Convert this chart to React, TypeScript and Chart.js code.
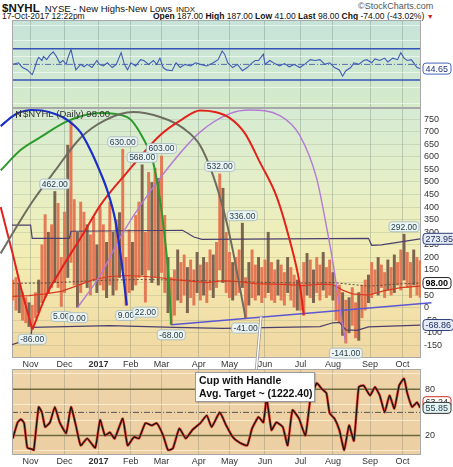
import React, { useEffect, useRef } from 'react';
import { Chart, registerables } from 'chart.js';

Chart.register(...registerables);

const FONT = '"Liberation Sans", Arial, Helvetica, sans-serif';

// x values are trading-session indexes: 0 = 17-Oct-2016 ... 252 = 17-Oct-2017
const X_MIN = -0.5;
const X_MAX = 252.5;
const MONTH_SESSIONS = [11, 32, 53, 73, 92, 115, 134, 156, 178, 198, 221, 241];
const MONTH_LABELS = ['Nov', 'Dec', '2017', 'Feb', 'Mar', 'Apr', 'May', 'Jun', 'Jul', 'Aug', 'Sep', 'Oct'];

// daily range bars, one every second session
const BAR_HIGH = [
  110, 120, 95, 60, 40, 20, 10, 60, 110, 250,
  370, 300, 330, 462, 415, 200, 380, 646, 740, 430,
  300, 420, 380, 330, 290, 360, 250, 400, 330, 260,
  420, 300, 350, 378, 630, 200, 310, 260, 367, 420,
  568, 300, 538, 498, 555, 514, 603, 367, 200, 120,
  150, 230, 180, 210, 160, 190, 150, 220, 170, 200,
  180, 230, 210, 260, 532, 475, 300, 220, 180, 200,
  230, 336, 120, 180, 230, 170, 200, 160, 190, 300,
  180, 150, 190, 170, 140, 200, 160, 130, 110, 90,
  180, 216, 190, 150, 200, 170, 220, 160, 190, 140,
  90, 90, 60, 30, 40, 80, 20, 60, 90, 110,
  130, 180, 150, 200, 170, 140, 190, 160, 210, 180,
  230, 292, 220, 180, 230, 200, 187,
];
const BAR_LOW = [
  30, -10, -20, -50, -60, -75, -86, -40, -20, 20,
  40, 60, 80, 100, 80, 5, 60, 120, 180, 90,
  0, 60, 100, 80, 50, 110, 60, 90, 70, 40,
  90, 50, 70, 120, 150, 9, 60, 70, 90, 120,
  130, 22, 150, 100, 120, 90, 140, 60, -20, -68,
  -30, 30, 20, 50, -20, 40, 10, 60, 30, 50,
  20, 70, 40, 80, 150, 100, 60, 40, 30, 50,
  60, 80, -41, 10, 40, 30, 50, 20, 40, 60,
  30, 20, 50, 30, 10, 60, 30, 0, -10, -10,
  -30, 50, 40, 20, 60, 30, 70, 40, 50, 30,
  -50, -60, -110, -141, -100, -70, -120, -130, -40, -10,
  20, 40, 60, 50, 80, 40, 70, 50, 60, 90,
  70, 110, 80, 40, 90, 50, 41,
];
const BAR_DOWN = [2, 5, 8, 11, 13, 17, 20, 23, 26, 29, 31, 33, 37, 40, 43, 45, 48, 51, 54, 57, 59, 62, 65, 68, 71, 73, 76, 79, 82, 85, 88, 91, 93, 96, 99, 102, 104, 107, 110, 113, 116, 118, 121, 124];

const HIGH_LABELS = [[26, 462], [68, 630], [80, 568], [92, 603], [128, 532], [142, 336], [242, 292]];
const LOW_LABELS = [[12, -86], [30, 5], [40, 0], [70, 9], [82, 22], [98, -68], [144, -41], [206, -141]];

const MA_RED = [[0, 45], [10, 48], [20, 55], [30, 65], [40, 88], [50, 112], [60, 124], [70, 128], [80, 125], [90, 120], [100, 112], [110, 106], [120, 100], [130, 108], [140, 104], [150, 96], [160, 94], [170, 92], [180, 88], [190, 94], [198, 92], [204, 70], [210, 55], [220, 50], [230, 68], [240, 80], [252, 86]];
const MA_DASHED = [[0, 97], [20, 98], [40, 104], [60, 110], [80, 112], [100, 110], [120, 107], [140, 104], [160, 100], [180, 98], [198, 100], [210, 92], [220, 86], [230, 90], [240, 95], [252, 98]];
const BAND_UPPER = [[-0.5, 328], [11, 328], [12, 276], [35, 276], [36, 304], [105, 308], [112, 281], [117, 272], [220, 276], [222, 248], [228, 250], [252, 274]];
const BAND_LOWER = [[-0.5, -147], [11, -123], [12, -78], [60, -71], [100, -78], [130, -82], [190, -75], [198, -60], [202, -58], [206, -88], [213, -90], [220, -76], [252, -69]];
const TRENDLINE = [[98, -68], [259, 20]];

const ARC_RED_LEFT = [[-7.5, 400], [0, 213], [5, 80], [12, -86]];
const ARC_BLUE = [[-7.5, 722], [0, 762], [4, 776], [11, 786], [18, 784], [25.2, 772], [33.8, 746], [41.8, 698], [48, 627], [54.1, 539], [58.4, 467], [63.4, 348], [66, 240], [68.3, 130], [70.5, 9]];
const ARC_GREEN = [[-7.5, 546], [4.8, 627], [17.1, 678], [33.8, 742], [54.1, 774], [70.8, 758], [80.6, 674], [86.8, 578], [91.1, 427], [94.2, 268], [96.5, 110], [98, -68]];
const ARC_GRAY = [[-7.5, 216], [4.8, 348], [12.8, 428], [26.4, 547], [41.8, 675], [57.2, 746], [74.5, 778], [91.1, 758], [105.3, 714], [115.8, 646], [123.8, 527], [131.2, 368], [136.1, 228], [140, 95], [144, -41]];
const ARC_RED = [[12.2, -86], [20, 40], [29.5, 149], [43, 288], [54.1, 407], [70.8, 539], [91.1, 686], [105, 750], [115.8, 784], [125, 778], [134.3, 754], [143.5, 694], [152.8, 579], [163.3, 440], [171.3, 268], [177.4, 97], [180, -30]];
const ARC_PURPLE = [[40, 0], [54.1, 129], [68.3, 300], [91.1, 515], [115.8, 698], [134.3, 772], [146.7, 786], [165.2, 764], [177.4, 686], [187.9, 515], [194.7, 300], [197.8, 189], [200.9, 57], [203.5, -50], [206, -141]];

const TOP_LINE = [[0, 50], [3.5, 52], [6, 46], [9, 43], [12, 37], [13, 42], [15, 55], [16, 59], [18, 55], [19, 60], [21, 56], [23, 62], [25, 66], [27, 60], [29, 52], [31, 55], [33, 50], [34, 58], [36, 69], [37.5, 55], [39, 43], [42, 50], [44, 47], [46, 50], [49, 46], [52, 55], [53.5, 50], [56, 48], [58.5, 52], [61.5, 46], [64, 50], [67, 65], [69, 50], [71, 43], [73, 52], [76, 48], [79, 56], [81, 55], [84, 50], [87, 55], [89, 50], [91, 58], [93, 46], [95, 43], [98.5, 42], [101, 52], [103.5, 46], [106.5, 50], [110, 48], [113, 52], [116, 50], [120, 48], [124, 52], [127, 56], [129.5, 67], [131, 63], [133, 52], [136, 46], [139, 50], [142, 42], [145, 46], [148, 52], [150, 55], [152, 55], [155, 63], [156, 50], [159, 55], [162, 51], [165, 48], [168, 51], [171, 47], [174, 50], [177.5, 46], [180.5, 50], [184, 56], [187, 55], [190, 56], [193, 50], [196, 52], [199, 46], [202, 43], [204, 35], [206, 42], [209, 46], [211, 52], [214, 50], [217, 55], [219, 56], [222, 52], [224, 57], [227, 55], [230, 58], [232, 53], [235, 58], [238, 56], [240, 65], [242, 58], [244, 55], [246.5, 56], [248, 52], [250, 46], [252, 44.65]];
const BOTTOM_LINE = [[0, 16], [3, 37], [5, 41], [7, 36], [9, 4], [12, 2], [13, 1], [16, 57], [18, 50], [20, 31], [23, 37], [26, 57], [29, 37], [33, 23], [36, 57], [39, 33], [42, 7], [46, 16], [51, 4], [54, 40], [57, 20], [60, 24], [63, 16], [68, 42], [71, 7], [75, 18], [78, 16], [82, 36], [86, 33], [89, 36], [93, 20], [96, 1], [99, 3], [103, 29], [107, 16], [111, 27], [116, 36], [120, 46], [123, 31], [128, 50], [132, 33], [136, 18], [140, 11], [145, 7], [148, 29], [152, 44], [155, 37], [157, 68], [160, 27], [163, 37], [167, 31], [170, 7], [173, 53], [177, 42], [181, 20], [184, 66], [188, 88], [191, 81], [194, 75], [196, 49], [199, 42], [202, 27], [205, 1], [208, 33], [211, 13], [214, 83], [217, 85], [221, 72], [224, 83], [227, 72], [230, 50], [233, 72], [236, 55], [239, 85], [242, 94], [244, 75], [247, 57], [250, 63], [252, 56]];

const MAIN_TICKS = [-150, -100, -50, 0, 50, 100, 150, 200, 250, 300, 350, 400, 450, 500, 550, 600, 650, 700, 750];
const OSC_GRID = [0, 10, 20, 30, 40, 50, 60, 70, 80, 90, 100];
const TOP_LABELED = [10, 30, 50, 70, 90];
const BOTTOM_LABELED = [20, 50, 80];

const LAST_TOP = 44.65;
const LAST_UPPER = 273.95;
const LAST_CLOSE = 98.0;
const LAST_LOWER = -68.86;
const LAST_BOTTOM_RED = 63.24;
const LAST_BOTTOM_BLACK = 55.85;
const CUP_TARGET = 1222.4;
const POINTER_SESSION = 153.5;

const pts = (a: number[][]) => a.map(([x, y]) => ({ x, y }));

function roundRect(ctx: any, x: number, y: number, w: number, h: number, r: number) {
  ctx.beginPath();
  ctx.moveTo(x + r, y);
  ctx.arcTo(x + w, y, x + w, y + h, r);
  ctx.arcTo(x + w, y + h, x, y + h, r);
  ctx.arcTo(x, y + h, x, y, r);
  ctx.arcTo(x, y, x + w, y, r);
  ctx.closePath();
}

function valueBox(chart: any, value: number, text: string, stroke: string, fill: string, color: string, bold = false) {
  const ctx = chart.ctx;
  const y = chart.scales.y.getPixelForValue(value);
  const x = chart.chartArea.right + 2;
  ctx.save();
  ctx.font = `${bold ? 'bold ' : ''}9px ${FONT}`;
  const w = Math.max(28, ctx.measureText(text).width + 5);
  roundRect(ctx, x, y - 5.5, w, 11, 3);
  ctx.fillStyle = fill;
  ctx.fill();
  ctx.lineWidth = 1;
  ctx.strokeStyle = stroke;
  ctx.stroke();
  ctx.fillStyle = color;
  ctx.textAlign = 'left';
  ctx.textBaseline = 'middle';
  ctx.fillText(text, x + 2.5, y + 0.5);
  ctx.restore();
}

function hLine(chart: any, v: number, color: string, width: number, dash: number[] = []) {
  const ctx = chart.ctx;
  const a = chart.chartArea;
  const y = chart.scales.y.getPixelForValue(v);
  ctx.save();
  ctx.strokeStyle = color;
  ctx.lineWidth = width;
  ctx.setLineDash(dash);
  ctx.beginPath();
  ctx.moveTo(a.left, y);
  ctx.lineTo(a.right, y);
  ctx.stroke();
  ctx.restore();
}

function frame(chart: any) {
  const ctx = chart.ctx;
  const a = chart.chartArea;
  ctx.save();
  ctx.strokeStyle = '#a8a8a8';
  ctx.lineWidth = 1;
  ctx.strokeRect(a.left + 0.5, a.top + 0.5, a.right - a.left - 1, a.bottom - a.top - 1);
  ctx.restore();
}

function tag(ctx: any, x: number, y: number, text: string) {
  ctx.save();
  ctx.font = `8.5px ${FONT}`;
  const w = ctx.measureText(text).width + 4;
  const h = 10;
  roundRect(ctx, x - w / 2, y - h / 2, w, h, 3);
  ctx.fillStyle = 'rgba(236,244,244,0.95)';
  ctx.fill();
  ctx.strokeStyle = '#9fb7bd';
  ctx.lineWidth = 0.8;
  ctx.stroke();
  ctx.fillStyle = '#1e3948';
  ctx.textAlign = 'center';
  ctx.textBaseline = 'middle';
  ctx.fillText(text, x, y + 0.5);
  ctx.restore();
}

const bgPlugin = (stops: [number, string][]) => ({
  id: 'bg',
  beforeDraw(chart: any) {
    const { ctx, chartArea: a } = chart;
    const g = ctx.createLinearGradient(0, a.top, 0, a.bottom);
    stops.forEach(([o, c]) => g.addColorStop(o, c));
    ctx.save();
    ctx.fillStyle = g;
    ctx.fillRect(a.left, a.top, a.right - a.left, a.bottom - a.top);
    ctx.restore();
  },
});

function xScale(labels: boolean, height: number) {
  return {
    type: 'linear',
    min: X_MIN,
    max: X_MAX,
    offset: false,
    afterBuildTicks: (s: any) => {
      s.ticks = MONTH_SESSIONS.map((v) => ({ value: v }));
    },
    afterFit: (s: any) => {
      s.height = height;
      s.paddingLeft = 0;
      s.paddingRight = 0;
    },
    grid: { color: 'rgba(100,115,105,0.30)', lineWidth: 1, drawTicks: false, offset: false },
    border: { display: false },
    ticks: {
      display: labels,
      autoSkip: false,
      maxRotation: 0,
      minRotation: 0,
      padding: 1,
      color: '#333',
      font: (c: any) => ({ family: FONT, size: 9, weight: c.tick && c.tick.value === 53 ? 'bold' : 'normal' }),
      callback: (_v: any, i: number) => MONTH_LABELS[i],
    },
  };
}

const fitRightAxis = (s: any) => {
  s.width = 32;
  s.paddingTop = 0;
  s.paddingBottom = 0;
};

function oscY(labeled: number[], gridColor: string) {
  return {
    type: 'linear',
    position: 'right',
    min: -5.5,
    max: 106.5,
    afterBuildTicks: (s: any) => {
      s.ticks = OSC_GRID.map((v) => ({ value: v }));
    },
    afterFit: fitRightAxis,
    grid: { color: gridColor, drawTicks: false },
    border: { display: false },
    ticks: {
      padding: 4,
      color: '#333',
      font: { family: FONT, size: 9 },
      callback: (v: any) => (labeled.includes(v) ? String(v) : ''),
    },
  };
}

const baseOptions = {
  animation: false,
  responsive: false,
  maintainAspectRatio: false,
  events: [],
  plugins: { legend: { display: false }, tooltip: { enabled: false } },
};

function topConfig(): any {
  return {
    type: 'line',
    data: {
      datasets: [
        { data: pts(TOP_LINE), borderColor: '#3f5bb5', borderWidth: 1.1, pointRadius: 0, tension: 0, fill: false },
      ],
    },
    options: {
      ...baseOptions,
      layout: { padding: { left: 12, right: 0, top: 0, bottom: 0 } },
      scales: { x: xScale(false, 0), y: oscY(TOP_LABELED, 'rgba(255,255,255,0.55)') },
    },
    plugins: [
      bgPlugin([[0, '#c6e3d9'], [0.5, '#cee7d4'], [1, '#d6ebc9']]),
      {
        id: 'topOverlay',
        beforeDatasetsDraw(chart: any) {
          hLine(chart, 70, '#3552b8', 1.5);
          hLine(chart, 30, '#3552b8', 1.5);
          hLine(chart, 50, '#5a6ea8', 1, [6, 2, 1, 2]);
        },
        afterDatasetsDraw(chart: any) {
          frame(chart);
          valueBox(chart, LAST_TOP, LAST_TOP.toFixed(2), '#4466bb', '#ffffff', '#223377');
        },
      },
    ],
  };
}

function mainConfig(): any {
  const up: any[] = [];
  const down: any[] = [];
  BAR_HIGH.forEach((h, i) => {
    const p = { x: i * 2, y: [BAR_LOW[i], h] };
    (BAR_DOWN.includes(i) ? down : up).push(p);
  });
  const line = (data: number[][], color: string, width: number, order: number, extra: any = {}) => ({
    type: 'line',
    data: pts(data),
    borderColor: color,
    borderWidth: width,
    pointRadius: 0,
    fill: false,
    tension: 0,
    order,
    ...extra,
  });
  const arc = { cubicInterpolationMode: 'monotone', clip: false };
  return {
    type: 'line',
    data: {
      datasets: [
        { type: 'bar', data: up, backgroundColor: '#e47a55', barThickness: 2.3, grouped: false, order: 20 },
        { type: 'bar', data: down, backgroundColor: '#7d6450', barThickness: 2.3, grouped: false, order: 19 },
        line(MA_DASHED, '#5a4a3a', 1, 12, { borderDash: [2, 2] }),
        line(MA_RED, '#d93a22', 1.2, 11),
        line(BAND_UPPER, '#4b3f6e', 1.2, 10),
        line(BAND_LOWER, '#4b3f6e', 1.2, 10),
        line(TRENDLINE, '#5b57d0', 1.5, 9, { clip: false }),
        line(ARC_PURPLE, '#b47ad6', 1.4, 6, arc),
        line(ARC_RED, '#e3231b', 2, 5, arc),
        line(ARC_GRAY, '#6e6c60', 2, 5, arc),
        line(ARC_GREEN, '#2c9a2c', 2, 5, arc),
        line(ARC_BLUE, '#1a2ec8', 2.2, 4, arc),
        line(ARC_RED_LEFT, '#e3231b', 2, 5, arc),
      ],
    },
    options: {
      ...baseOptions,
      layout: { padding: { left: 12, right: 0, top: 0, bottom: 0 } },
      scales: {
        x: xScale(true, 14),
        y: {
          type: 'linear',
          position: 'right',
          min: -200,
          max: 794,
          afterBuildTicks: (s: any) => {
            s.ticks = MAIN_TICKS.map((v) => ({ value: v }));
          },
          afterFit: fitRightAxis,
          grid: { color: 'rgba(150,160,130,0.28)', drawTicks: false },
          border: { display: false },
          ticks: { padding: 3, color: '#333', font: { family: FONT, size: 9 }, callback: (v: any) => String(v) },
        },
      },
    },
    plugins: [
      bgPlugin([[0, '#d5ebd3'], [0.3, '#e5efc8'], [0.6, '#f3edb2'], [1, '#f1d7a1']]),
      {
        id: 'mainFrame',
        beforeDatasetsDraw(chart: any) {
          frame(chart);
        },
      },
      {
        id: 'mainOverlay',
        afterDatasetsDraw(chart: any) {
          const { ctx, scales } = chart;
          const xs = scales.x;
          const ys = scales.y;
          HIGH_LABELS.forEach(([s, v]) => tag(ctx, xs.getPixelForValue(s), ys.getPixelForValue(v) - 7.5, v.toFixed(2)));
          LOW_LABELS.forEach(([s, v]) => tag(ctx, xs.getPixelForValue(s), ys.getPixelForValue(v) + 10, v.toFixed(2)));
          // pointer from the "Cup with Handle" note to the trendline
          const [[s0, v0], [s1, v1]] = TRENDLINE;
          const tv = v0 + ((POINTER_SESSION - s0) * (v1 - v0)) / (s1 - s0);
          const px = xs.getPixelForValue(POINTER_SESSION);
          const py = ys.getPixelForValue(tv);
          ctx.save();
          ctx.lineCap = 'round';
          ctx.strokeStyle = '#9a9a9a';
          ctx.lineWidth = 3;
          ctx.beginPath();
          ctx.moveTo(px, py);
          ctx.lineTo(px - 5, chart.height + 2);
          ctx.stroke();
          ctx.strokeStyle = '#ffffff';
          ctx.lineWidth = 1.4;
          ctx.beginPath();
          ctx.moveTo(px, py);
          ctx.lineTo(px - 5, chart.height + 2);
          ctx.stroke();
          ctx.restore();
          // legend
          const a = chart.chartArea;
          ctx.save();
          ctx.strokeStyle = '#333';
          ctx.lineWidth = 1;
          ctx.beginPath();
          ctx.moveTo(a.left + 4.5, a.top + 10);
          ctx.lineTo(a.left + 4.5, a.top + 3);
          ctx.lineTo(a.left + 8.5, a.top + 9);
          ctx.lineTo(a.left + 8.5, a.top + 2);
          ctx.stroke();
          ctx.font = `9.5px ${FONT}`;
          ctx.fillStyle = '#333';
          ctx.textBaseline = 'middle';
          ctx.textAlign = 'left';
          ctx.fillText(`$NYHL (Daily) ${LAST_CLOSE.toFixed(2)}`, a.left + 11, a.top + 6);
          ctx.restore();
          valueBox(chart, LAST_UPPER, LAST_UPPER.toFixed(2), '#2e3e78', '#e4eaf6', '#1c2a5a');
          valueBox(chart, LAST_CLOSE, LAST_CLOSE.toFixed(2), '#222222', '#ffffff', '#000000', true);
          valueBox(chart, LAST_LOWER, LAST_LOWER.toFixed(2), '#2e3e78', '#e4eaf6', '#1c2a5a');
        },
      },
    ],
  };
}

function bottomConfig(): any {
  return {
    type: 'line',
    data: {
      datasets: [
        { data: pts(BOTTOM_LINE), borderColor: '#111111', borderWidth: 1.2, pointRadius: 0, tension: 0.15, fill: false, order: 1 },
        { data: pts(BOTTOM_LINE), borderColor: '#e0432c', borderWidth: 2.6, pointRadius: 0, tension: 0.15, fill: false, order: 2 },
      ],
    },
    options: {
      ...baseOptions,
      layout: { padding: { left: 12, right: 0, top: 1, bottom: 0 } },
      scales: { x: xScale(true, 12), y: oscY(BOTTOM_LABELED, 'rgba(255,244,222,0.75)') },
    },
    plugins: [
      bgPlugin([[0, '#efd4a9'], [1, '#eccfa2']]),
      {
        id: 'bottomOverlay',
        beforeDatasetsDraw(chart: any) {
          hLine(chart, 80, '#6e6a3e', 1.5);
          hLine(chart, 20, '#6e6a3e', 1.5);
          hLine(chart, 50, '#555555', 1, [6, 2, 1, 2]);
        },
        afterDatasetsDraw(chart: any) {
          frame(chart);
          valueBox(chart, LAST_BOTTOM_RED, LAST_BOTTOM_RED.toFixed(2), '#d03020', '#ffffff', '#333333');
          valueBox(chart, LAST_BOTTOM_BLACK, LAST_BOTTOM_BLACK.toFixed(2), '#333333', '#e4f2f2', '#1e3948');
        },
      },
    ],
  };
}

export default function App() {
  const topRef = useRef<HTMLCanvasElement>(null);
  const mainRef = useRef<HTMLCanvasElement>(null);
  const botRef = useRef<HTMLCanvasElement>(null);

  useEffect(() => {
    const charts = [
      new Chart(topRef.current as HTMLCanvasElement, topConfig()),
      new Chart(mainRef.current as HTMLCanvasElement, mainConfig()),
      new Chart(botRef.current as HTMLCanvasElement, bottomConfig()),
    ];
    return () => charts.forEach((c) => c.destroy());
  }, []);

  const abs = (left: number, top: number): any => ({ position: 'absolute', left, top });

  return (
    <div style={{ position: 'fixed', left: 0, top: 0, width: 453, height: 467, background: '#ffffff', overflow: 'hidden', fontFamily: FONT }}>
      <div style={{ ...abs(2, 0), whiteSpace: 'nowrap', lineHeight: '13px', color: '#111' }}>
        <span style={{ fontWeight: 'bold', fontSize: 11.5 }}>$NYHL</span>
        <span style={{ fontSize: 9.5, marginLeft: 5 }}>NYSE - New Highs-New Lows</span>
        <span style={{ fontSize: 8, marginLeft: 4 }}>INDX</span>
      </div>
      <div style={{ ...abs(358, 1), whiteSpace: 'nowrap', fontSize: 9, lineHeight: '11px', color: '#555' }}>©StockCharts.com</div>
      <div style={{ ...abs(2, 11), whiteSpace: 'nowrap', fontSize: 8.5, lineHeight: '10px', color: '#111' }}>17-Oct-2017 12:22pm</div>
      <div style={{ ...abs(153, 11), whiteSpace: 'nowrap', fontSize: 8.5, lineHeight: '10px', color: '#111' }}>
        <b>Open</b> 187.00 <b>High</b> 187.00 <b>Low</b> 41.00 <b>Last</b> 98.00 <b>Chg</b> -74.00 (-43.02%){' '}
        <span style={{ color: '#cc2222', fontSize: 7 }}>▼</span>
      </div>
      <canvas ref={topRef} width={453} height={88} style={{ ...abs(0, 20) }} />
      <canvas ref={mainRef} width={453} height={264} style={{ ...abs(0, 108) }} />
      <canvas ref={botRef} width={453} height={99} style={{ ...abs(0, 368) }} />
      <div
        style={{
          ...abs(195, 372),
          width: 120,
          height: 30,
          boxSizing: 'border-box',
          background: '#ffffff',
          border: '1px solid #9a9a9a',
          boxShadow: '1px 1px 1px rgba(0,0,0,0.15)',
          fontWeight: 'bold',
          fontSize: 10.5,
          lineHeight: '13px',
          color: '#111',
          padding: '1px 0 0 3px',
          whiteSpace: 'nowrap',
        }}
      >
        Cup with Handle
        <br />
        Avg. Target ~ ({CUP_TARGET.toFixed(2)})
      </div>
    </div>
  );
}
